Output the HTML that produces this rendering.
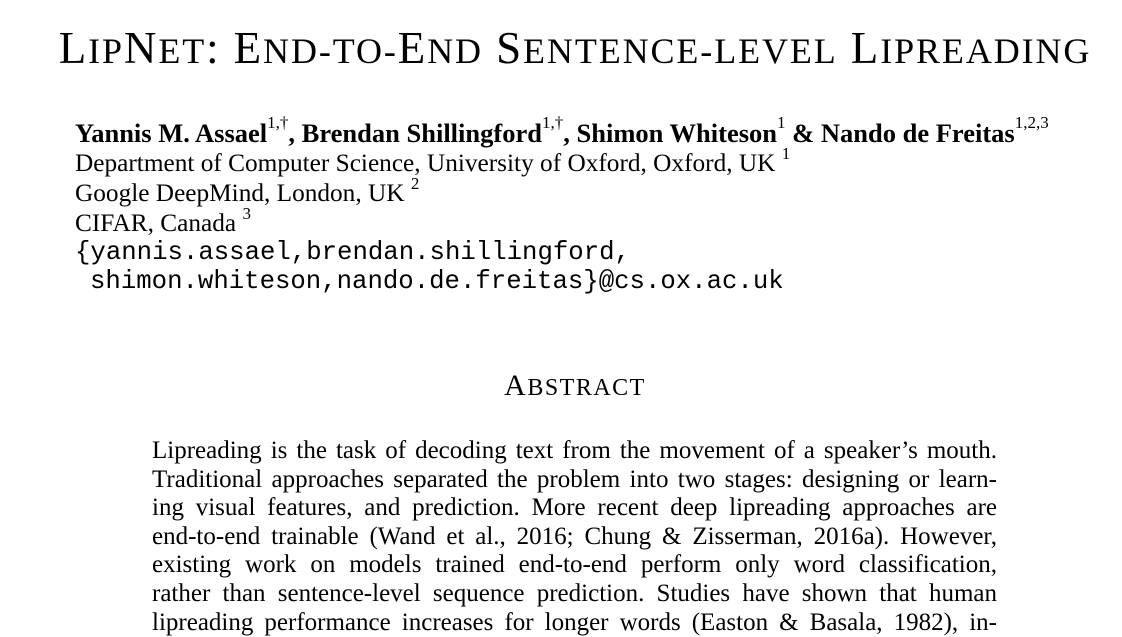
<!DOCTYPE html>
<html><head><meta charset="utf-8"><style>
html,body{margin:0;padding:0;background:#fff;}
body{width:1122px;height:621px;position:relative;overflow:hidden;font-family:"Liberation Serif",serif;color:#000;}
.l{position:absolute;white-space:nowrap;}
.t{left:0;width:1150px;text-align:center;top:22px;font-size:45px;letter-spacing:1.9px;}
.t .s{font-size:36px;}
.a{font-size:25.3px;left:75px;}
.m{font-family:"Liberation Mono",monospace;font-size:25.7px;}
sup{font-size:17px;vertical-align:top;position:relative;top:-5px;font-weight:normal;}
.b{position:absolute;left:152px;width:845px;font-size:25px;text-align:justify;text-align-last:justify;white-space:nowrap;}
</style></head><body>
<div class="l t">L<span class="s">IP</span>N<span class="s">ET</span>: E<span class="s">ND-TO-</span>E<span class="s">ND</span> S<span class="s">ENTENCE-LEVEL</span> L<span class="s">IPREADING</span></div>
<div class="l a" style="top:118px;font-weight:bold;font-size:26.5px;">Yannis M. Assael<sup>1,†</sup>, Brendan Shillingford<sup>1,†</sup>, Shimon Whiteson<sup>1</sup> &amp; Nando de Freitas<sup>1,2,3</sup></div>
<div class="l a" style="top:149px;">Department of Computer Science, University of Oxford, Oxford, UK <sup>1</sup></div>
<div class="l a" style="top:179px;">Google DeepMind, London, UK <sup>2</sup></div>
<div class="l a" style="top:209px;">CIFAR, Canada <sup>3</sup></div>
<div class="l a m" style="top:238px;">{yannis.assael,brendan.shillingford,</div>
<div class="l a m" style="top:267px;left:90px;">shimon.whiteson,nando.de.freitas}@cs.ox.ac.uk</div>
<div class="l" style="left:0;width:1150px;text-align:center;top:369px;font-size:30px;letter-spacing:1.5px;">A<span style="font-size:24px;">BSTRACT</span></div>
<div class="b" style="top:437px;">Lipreading is the task of decoding text from the movement of a speaker’s mouth.</div>
<div class="b" style="top:466px;">Traditional approaches separated the problem into two stages: designing or learn-</div>
<div class="b" style="top:494px;">ing visual features, and prediction. More recent deep lipreading approaches are</div>
<div class="b" style="top:523px;">end-to-end trainable (Wand et al., 2016; Chung &amp; Zisserman, 2016a). However,</div>
<div class="b" style="top:551px;">existing work on models trained end-to-end perform only word classification,</div>
<div class="b" style="top:580px;">rather than sentence-level sequence prediction. Studies have shown that human</div>
<div class="b" style="top:609px;">lipreading performance increases for longer words (Easton &amp; Basala, 1982), in-</div>
</body></html>
